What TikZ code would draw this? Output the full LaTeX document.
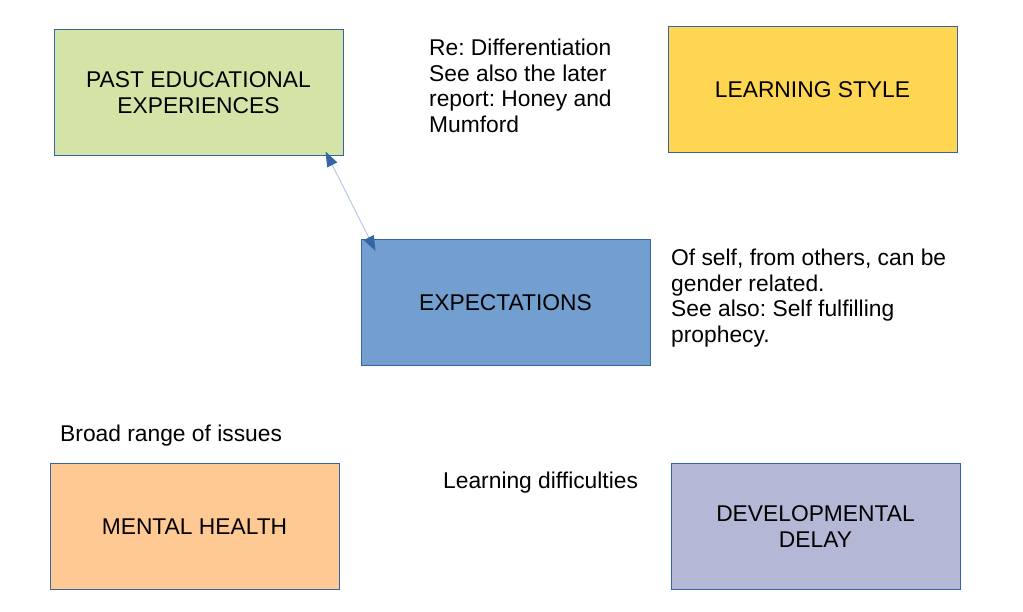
\documentclass[tikz,border=0pt]{standalone}
\usepackage{fontspec}
\setmainfont{Liberation Sans}
\frenchspacing
\usepackage{tikz}
\usetikzlibrary{positioning,arrows.meta}
\definecolor{frame}{HTML}{3465A4}
\definecolor{lime}{HTML}{D3E4A6}
\definecolor{gold}{HTML}{FFD651}
\definecolor{sky}{HTML}{729FCF}
\definecolor{peach}{HTML}{FFC993}
\definecolor{lilac}{HTML}{B4B8D6}
\definecolor{pale}{HTML}{B4C7E7}
\tikzset{
  box/.style ={rectangle, draw=frame, line width=1pt, minimum width=289pt, minimum height=126pt, inner sep=2pt, align=center, font=\fontsize{22.8}{26}\selectfont},
  note/.style={anchor=north west, inner sep=0pt, align=left, font=\fontsize{22.8}{25.5}\selectfont},
  link/.style={{Triangle[length=15pt,width=11pt,color=frame]}-{Triangle[length=15pt,width=11pt,color=frame]}, pale, line width=1pt},
}

\begin{document}
\begin{tikzpicture}[x=1pt,y=-1pt]
        \useasboundingbox (0,0) rectangle (1023,612);
        \node[box, fill=lime]  (past)   at (198.5,93)   {PAST EDUCATIONAL\\EXPERIENCES};
        \node[box, fill=gold]  (style)  at (812.5,89.5) {LEARNING STYLE};
        \node[box, fill=sky]   (expect) at (505.5,302.5) {EXPECTATIONS};
        \node[box, fill=peach] (mental) at (194.5,526.5) {MENTAL HEALTH};
        \node[box, fill=lilac] (delay)  at (815.5,526.5) {DEVELOPMENTAL\\DELAY};
        \node[note] (diff)   at (429,39)  {Re: Differentiation\\See also the later\\report: Honey and\\Mumford};
        \node[note] (self)   at (671,249) {Of self, from others, can be\\gender related.\\See also: Self fulfilling\\prophecy.};
        \node[note] (broad)  at (60,425)  {Broad range of issues};
        \node[note] (diffic) at (443,472) {Learning difficulties};
        \draw[link] ([shift={(-18,-5)}]past.south east) -- ([shift={(15,12)}]expect.north west);
      \end{tikzpicture}
\end{document}
